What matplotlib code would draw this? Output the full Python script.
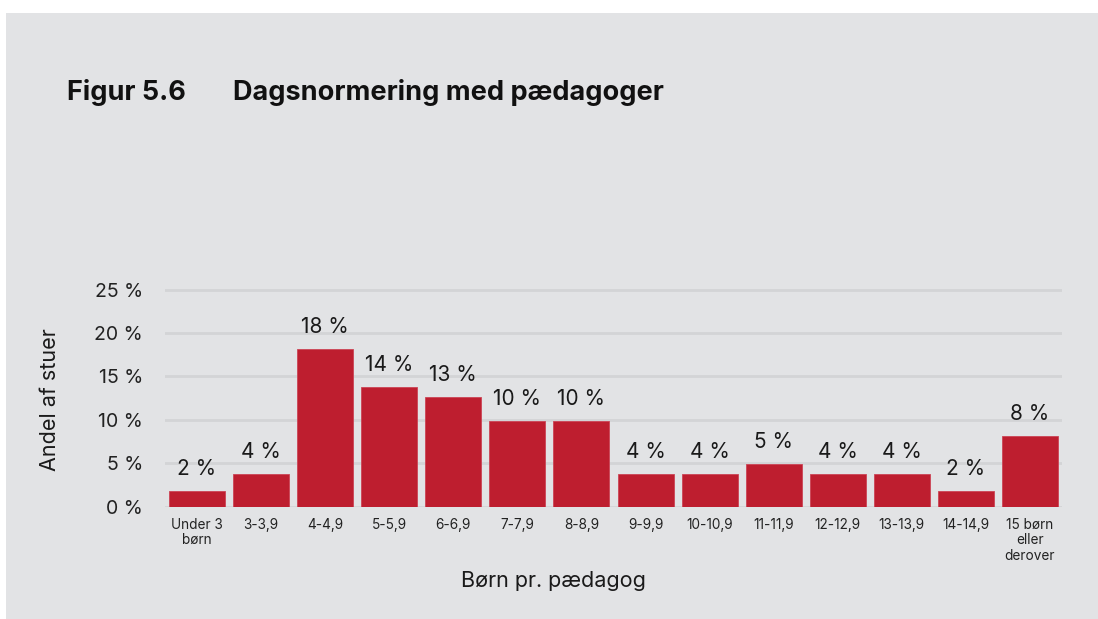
import matplotlib
matplotlib.use("Agg")
from matplotlib import pyplot as plt
from matplotlib.patches import Rectangle

plt.rcParams['font.family'] = ['Inter', 'DejaVu Sans']

# andel af stuer (%) pr. kategori af børn pr. pædagog
categories = ["Under 3\nbørn", "3-3,9", "4-4,9", "5-5,9", "6-6,9", "7-7,9", "8-8,9",
              "9-9,9", "10-10,9", "11-11,9", "12-12,9", "13-13,9", "14-14,9",
              "15 børn\neller\nderover"]
shares = [1.8, 3.7, 18.2, 13.8, 12.6, 9.9, 9.9, 3.7, 3.7, 4.9, 3.7, 3.7, 1.8, 8.1]
yticks = [0, 5, 10, 15, 20, 25]

BG = '#e2e3e5'
RED = '#be1e2f'
GRID = '#d3d4d6'
W, H = 1098, 619

fig = plt.figure(figsize=(W / 100, H / 100), dpi=100, facecolor='white')
fig.patches.append(Rectangle((6 / W, 0), 1 - 6 / W, 1 - 13 / H, transform=fig.transFigure,
                             facecolor=BG, edgecolor='none', zorder=-10))

top_px = 506.5 - 25.3 * 8.68
ax = fig.add_axes([165 / W, 1 - 506.5 / H, (1062 - 165) / W, (506.5 - top_px) / H])
ax.set_facecolor('none')

x = range(len(categories))
bars = ax.bar(x, shares, width=0.875, color=RED, edgecolor='#cc4455', linewidth=0.6, zorder=3)
for xi, v in zip(x, shares):
    ax.annotate(f"{round(v)} %", (xi, v), xytext=(0, 11.5), textcoords='offset points',
                ha='center', va='baseline', fontsize=15, color='#1a1a1a')

ax.set_xlim(-0.5, len(categories) - 0.5)
ax.set_ylim(0, 25.3)
ax.set_yticks(yticks)
ax.set_yticklabels([f"{t} %" for t in yticks])
ax.set_xticks(list(x))
ax.set_xticklabels(categories, fontsize=9.8, color='#222222', linespacing=1.15)
ax.tick_params(axis='y', length=0, pad=16, labelsize=14, labelcolor='#222222')
ax.tick_params(axis='x', length=0, pad=8)
ax.yaxis.grid(True, color=GRID, linewidth=2.0, zorder=0)
ax.set_axisbelow(True)
for s in ax.spines.values():
    s.set_visible(False)

fig.text(50 / W, 1 - 400 / H, "Andel af stuer", rotation=90, ha='center', va='center',
         fontsize=15.5, color='#1a1a1a')
fig.text(553 / W, 1 - 587 / H, "Børn pr. pædagog", ha='center', va='baseline',
         fontsize=15.5, color='#1a1a1a')
fig.text(67 / W, 1 - 100 / H, "Figur 5.6", ha='left', va='baseline',
         fontsize=19.5, fontweight='bold', color='#111111')
fig.text(233 / W, 1 - 100 / H, "Dagsnormering med pædagoger", ha='left', va='baseline',
         fontsize=19.5, fontweight='bold', color='#111111')

fig.savefig("out.png", dpi=100, facecolor=fig.get_facecolor())
